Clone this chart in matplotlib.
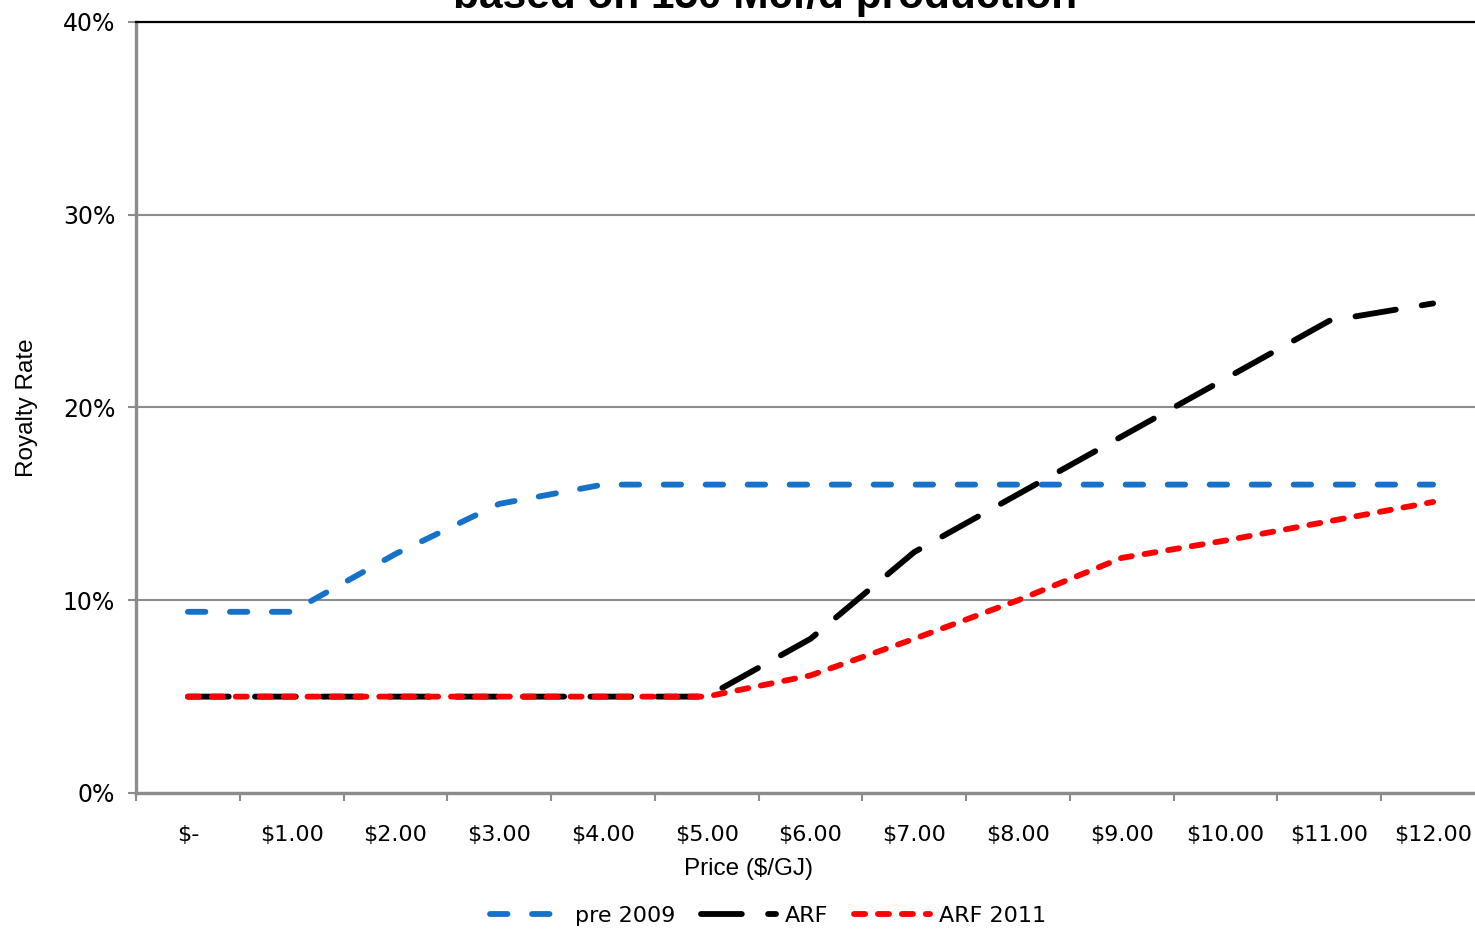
import numpy as np
import matplotlib
matplotlib.use('Agg')
import matplotlib.pyplot as plt
from matplotlib.lines import Line2D

# prices ($/GJ) and royalty rates (%)
prices = ['$-', '$1.00', '$2.00', '$3.00', '$4.00', '$5.00', '$6.00',
          '$7.00', '$8.00', '$9.00', '$10.00', '$11.00', '$12.00']
pre_2009 = [9.4, 9.4, 12.4, 15.0, 16.0, 16.0, 16.0, 16.0, 16.0, 16.0, 16.0, 16.0, 16.0]
arf = [5.0, 5.0, 5.0, 5.0, 5.0, 5.0, 8.0, 12.5, 15.5, 18.5, 21.5, 24.5, 25.4]
arf_2011 = [5.0, 5.0, 5.0, 5.0, 5.0, 5.0, 6.1, 8.0, 10.0, 12.2, 13.1, 14.1, 15.1]

label_font = 'DejaVu Sans'
axis_font = 'Liberation Sans'

# line styles: (colour, dash pattern in linewidths)
LW = 4.2
blue_style = dict(color='#1672C9', lw=LW, dashes=(3.0, 4.2), dash_capstyle='round')
black_style = dict(color='black', lw=LW, dashes=(7.0, 4.5), dash_capstyle='round')
red_style = dict(color='#FF0000', lw=LW, dashes=(1.9, 2.2), dash_capstyle='round')

fig = plt.figure(figsize=(14.75, 9.32), dpi=100)
W, H = 1475, 932
ax_w = 1485 - 136
ax = fig.add_axes([136 / W, 1 - 793 / H, ax_w / W, (793 - 22) / H])

x = np.arange(len(prices))

ax.plot(x, arf, zorder=3, **black_style)
ax.plot(x, arf_2011, zorder=4, **red_style)
ax.plot(x, pre_2009, zorder=5, **blue_style)

ax.set_xlim(-0.5, 12.5)
ax.set_ylim(0, 40)
ax.set_yticks([0, 10, 20, 30, 40])
ax.set_yticklabels(['0%', '10%', '20%', '30%', '40%'])
ax.set_xticks(x)
ax.set_xticklabels(prices)
ax.set_xticks(np.arange(-0.5, 12.6, 1), minor=True)

ax.grid(axis='y', color='#8C8C8C', lw=1.5, zorder=1)
for s in ['right', 'bottom']:
    ax.spines[s].set_visible(False)
ax.spines['top'].set_color('black')
ax.spines['top'].set_linewidth(1.6)
ax.spines['left'].set_color('#8C8C8C')
ax.spines['left'].set_linewidth(2.4)
ax.axhline(0, color='#8C8C8C', lw=2.4, zorder=2, clip_on=False)

ax.tick_params(axis='y', length=6, width=1.5, color='#8C8C8C', pad=9,
               labelsize=17, labelfontfamily=label_font)
ax.tick_params(axis='x', which='major', length=0, pad=23,
               labelsize=16, labelfontfamily=label_font)
ax.tick_params(axis='x', which='minor', length=6, width=1.5, color='#8C8C8C')

ax.set_xlabel('Price ($/GJ)', fontsize=17.5, fontfamily=axis_font)
ax.set_ylabel('Royalty Rate', fontsize=17.5, fontfamily=axis_font)
ax.xaxis.set_label_coords((748 - 136) / ax_w, -(858 - 793) / (793 - 22))
ax.yaxis.set_label_coords(-98 / ax_w, 0.5)

fig.text(765 / W, 1 - 8 / H, 'based on 150 Mcf/d production', ha='center',
         va='baseline', fontsize=30.5, fontweight='bold', fontfamily='Liberation Sans')

handles = [Line2D([], [], **blue_style), Line2D([], [], **black_style),
           Line2D([], [], **red_style)]
fig.legend(handles, ['pre 2009', 'ARF', 'ARF 2011'], loc='center',
           bbox_to_anchor=(768 / W, 1 - 916 / H), ncol=3, frameon=False,
           prop={'family': label_font, 'size': 16}, handlelength=3.4,
           handletextpad=0.4, columnspacing=1.15)

fig.savefig('out.png', dpi=100)
